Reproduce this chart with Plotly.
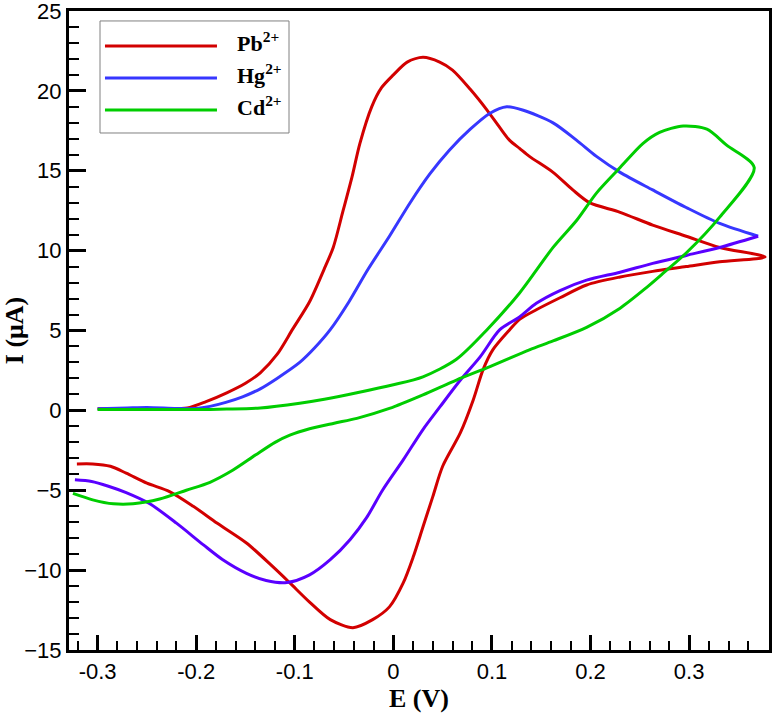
import plotly.graph_objects as go

# ---- data (E in V, I in uA) ----
pb_E = [-0.300, -0.260, -0.230, -0.209, -0.190, -0.169, -0.150, -0.135, -0.118, -0.102, -0.085,
        -0.0705, -0.061, -0.051, -0.042, -0.034, -0.022, -0.012, 0.000, 0.014, 0.030, 0.047,
        0.060, 0.078, 0.095, 0.108, 0.118, 0.128, 0.138, 0.162, 0.182, 0.199, 0.230, 0.263,
        0.297, 0.331, 0.377,
        0.331, 0.297, 0.263, 0.230, 0.196, 0.169, 0.145, 0.128, 0.118, 0.101, 0.091, 0.081,
        0.068, 0.050, 0.040, 0.030, 0.020, 0.010, -0.004, -0.021, -0.041, -0.064, -0.085,
        -0.105, -0.122, -0.149, -0.179, -0.203, -0.227, -0.250, -0.271, -0.287, -0.305, -0.321]
pb_I = [0.10, 0.10, 0.10, 0.15, 0.55, 1.10, 1.70, 2.35, 3.5, 5.1, 6.8,
        8.8, 10.2, 12.5, 14.6, 16.7, 19.0, 20.2, 21.0, 21.8, 22.1, 21.8,
        21.3, 20.1, 18.8, 17.7, 16.9, 16.4, 15.9, 14.9, 13.8, 13.0, 12.4, 11.6,
        10.9, 10.2, 9.6,
        9.3, 9.0, 8.7, 8.35, 7.85, 7.05, 6.3, 5.7, 5.05, 3.8, 2.55, 0.65,
        -1.4, -3.5, -5.4, -7.3, -9.2, -10.8, -12.3, -13.1, -13.6, -13.1, -12.0,
        -10.8, -9.8, -8.3, -7.05, -6.0, -5.08, -4.56, -3.93, -3.5, -3.35, -3.35]

hg_fwd_E = [-0.300, -0.270, -0.250, -0.220, -0.200, -0.186, -0.170, -0.153, -0.135, -0.118,
            -0.095, -0.080, -0.064, -0.045, -0.026, -0.004, 0.017, 0.037, 0.057, 0.078,
            0.098, 0.115, 0.131, 0.162, 0.186, 0.206, 0.230, 0.263, 0.297, 0.331, 0.370]
hg_fwd_I = [0.10, 0.15, 0.18, 0.12, 0.12, 0.25, 0.5, 0.85, 1.35, 2.0,
            3.0, 3.9, 5.05, 6.8, 8.8, 10.9, 13.0, 14.8, 16.3, 17.6,
            18.6, 19.0, 18.8, 18.0, 16.9, 15.9, 14.9, 13.8, 12.7, 11.7, 10.9]
hg_rev_E = [0.370, 0.331, 0.297, 0.263, 0.230, 0.196, 0.169, 0.145, 0.128, 0.108, 0.088,
            0.068, 0.047, 0.030, 0.010, -0.011, -0.027, -0.044, -0.064, -0.085, -0.108,
            -0.129, -0.149, -0.173, -0.193, -0.220, -0.247, -0.271, -0.289, -0.306, -0.323]
hg_rev_I = [10.9, 10.2, 9.7, 9.2, 8.65, 8.15, 7.5, 6.7, 5.85, 5.05, 3.35,
            1.9, 0.2, -1.2, -3.1, -5.0, -6.7, -8.1, -9.35, -10.3, -10.78,
            -10.65, -10.2, -9.35, -8.4, -7.06, -5.85, -5.15, -4.75, -4.45, -4.35]

cd_E = [-0.300, -0.250, -0.200, -0.169, -0.135, -0.095, -0.070, -0.037, 0.000, 0.030, 0.064,
        0.095, 0.128, 0.162, 0.186, 0.206, 0.230, 0.253, 0.270, 0.294, 0.318, 0.338, 0.366,
        0.331, 0.297, 0.274, 0.257, 0.230, 0.196, 0.162, 0.138, 0.098, 0.064, 0.030, -0.004,
        -0.037, -0.060, -0.085, -0.105, -0.120, -0.140, -0.163, -0.186, -0.210, -0.237,
        -0.264, -0.284, -0.305, -0.325]
cd_I = [0.05, 0.05, 0.05, 0.08, 0.15, 0.45, 0.7, 1.1, 1.6, 2.1, 3.2,
        5.05, 7.35, 10.2, 11.9, 13.6, 15.2, 16.7, 17.4, 17.8, 17.6, 16.6, 15.2,
        12.1, 9.85, 8.6, 7.7, 6.4, 5.2, 4.35, 3.79, 2.74, 1.9, 0.97, 0.12,
        -0.5, -0.8, -1.15, -1.55, -2.0, -2.8, -3.75, -4.5, -5.0, -5.55,
        -5.85, -5.85, -5.6, -5.2]

x_ticks = [-0.3, -0.2, -0.1, 0, 0.1, 0.2, 0.3]
x_ticklabels = ["-0.3", "-0.2", "-0.1", "0", "0.1", "0.2", "0.3"]
y_ticks = [-15, -10, -5, 0, 5, 10, 15, 20, 25]

legend_names = ["Pb<sup>2+</sup>", "Hg<sup>2+</sup>", "Cd<sup>2+</sup>"]

RED = "rgb(210,0,0)"
BLUE = "rgb(55,55,255)"
VIOLET = "rgb(90,0,255)"
GREEN = "rgb(0,205,0)"
LW = 3
legend_colors = [RED, BLUE, GREEN]

line_style = dict(width=LW, shape="spline", smoothing=0.8)

fig = go.Figure()
fig.add_trace(go.Scatter(x=pb_E, y=pb_I, mode="lines", name=legend_names[0],
                         line=dict(color=RED, **line_style)))
fig.add_trace(go.Scatter(x=hg_fwd_E, y=hg_fwd_I, mode="lines", name=legend_names[1],
                         legendgroup="hg", line=dict(color=BLUE, **line_style)))
fig.add_trace(go.Scatter(x=hg_rev_E, y=hg_rev_I, mode="lines", name=legend_names[1],
                         legendgroup="hg", line=dict(color=VIOLET, **line_style)))
fig.add_trace(go.Scatter(x=cd_E, y=cd_I, mode="lines", name=legend_names[2],
                         line=dict(color=GREEN, **line_style)))

# ---- legend box drawn in paper coordinates (long sample lines like the original) ----
L_X0, L_X1, L_Y0, L_Y1 = 0.0443, 0.3143, 0.8091, 0.9844
SAMPLE_X0, SAMPLE_X1, TEXT_X = 0.0514, 0.2114, 0.2371
ROW_Y = [0.9452, 0.8951, 0.8451]
TEXT_DY = 0.006

shapes = [dict(type="rect", xref="paper", yref="paper", x0=L_X0, x1=L_X1, y0=L_Y0, y1=L_Y1,
               line=dict(color="#808080", width=1), fillcolor="white", layer="above")]
annotations = []
for name, col, yy in zip(legend_names, legend_colors, ROW_Y):
    shapes.append(dict(type="line", xref="paper", yref="paper", x0=SAMPLE_X0, x1=SAMPLE_X1,
                       y0=yy, y1=yy, line=dict(color=col, width=LW), layer="above"))
    annotations.append(dict(xref="paper", yref="paper", x=TEXT_X, y=yy + TEXT_DY,
                            xanchor="left", yanchor="middle", showarrow=False,
                            text="<b>" + name + "</b>",
                            font=dict(family="Liberation Serif, Times New Roman", size=22,
                                      color="black")))

tickfont = dict(family="Liberation Sans, Arial", size=22, color="black")
titlefont = dict(family="Liberation Serif, Times New Roman", size=26, color="black")

fig.update_layout(
    width=774, height=713,
    margin=dict(l=69, r=5, t=11, b=63, autoexpand=False),
    paper_bgcolor="white", plot_bgcolor="white",
    showlegend=False,
    shapes=shapes, annotations=annotations,
    xaxis=dict(range=[-0.329, 0.381], tickmode="array", tickvals=x_ticks,
               ticktext=x_ticklabels, ticks="inside", ticklen=15, tickwidth=3,
               tickcolor="black", showline=True, linecolor="black", linewidth=3,
               mirror=True, showgrid=False, zeroline=False, tickfont=tickfont,
               ticklabeloverflow="allow", automargin=False,
               title=dict(text="<b>E (V)</b>", font=titlefont, standoff=4),
               minor=dict(ticks="inside", ticklen=9, tickwidth=1.5, tickcolor="black",
                          dtick=0.02, tick0=0, showgrid=False)),
    yaxis=dict(range=[-15, 25.0001], tickmode="array", tickvals=y_ticks,
               ticks="inside", ticklen=17, tickwidth=3, tickcolor="black",
               showline=True, linecolor="black", linewidth=3, mirror=True,
               showgrid=False, zeroline=False, tickfont=tickfont,
               ticklabeloverflow="allow", automargin=False,
               title=dict(text="<b>I (μA)</b>", font=titlefont, standoff=6),
               minor=dict(ticks="inside", ticklen=10, tickwidth=1.5, tickcolor="black",
                          dtick=1, tick0=0, showgrid=False)),
)

fig.write_html("out.html")
